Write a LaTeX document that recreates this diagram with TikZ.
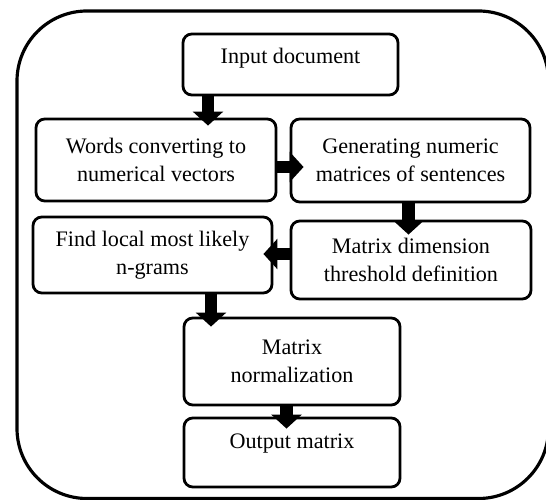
\documentclass[tikz,border=0pt]{standalone}
\usepackage{fontspec}
\setmainfont{Liberation Serif}
\usetikzlibrary{arrows.meta}

\begin{document}
\begin{tikzpicture}[
  line join=round,
  box/.style={draw, line width=1.6pt, rounded corners=5pt, align=center,
              fill=white, font=\fontsize{12.6}{16.1}\selectfont},
  uptext/.style={text depth=#1},
  flow/.style={line width=7pt, -{Triangle[width=17pt, length=8pt]}}
]

  \useasboundingbox (0,0) rectangle (10.92,-10);

  % ── Frame ─────────────────────────────────────────────────────────────────

  \draw[line width=1.8pt, rounded corners=1.4cm] (0.34,-0.22) rectangle (10.97,-9.97);

  % ── Steps ─────────────────────────────────────────────────────────────────

  \node[box, uptext=0.33cm, minimum width=4.30cm, minimum height=1.22cm] (in)    at (5.81,-1.29)
      {Input document};
  \node[box, minimum width=4.80cm, minimum height=1.64cm]         (words) at (3.12,-3.20)
      {Words converting to\\numerical vectors};
  \node[box, minimum width=4.78cm, minimum height=1.66cm]         (gen)   at (8.21,-3.21)
      {Generating numeric\\matrices of sentences};
  \node[box, minimum width=4.78cm, minimum height=1.52cm]         (find)  at (3.05,-5.10)
      {Find local most likely\\n-grams};
  \node[box, minimum width=4.80cm, minimum height=1.56cm]         (dim)   at (8.22,-5.20)
      {Matrix dimension\\threshold definition};
  \node[box, minimum width=4.32cm, minimum height=1.74cm]         (norm)  at (5.84,-7.23)
      {Matrix\\normalization};
  \node[box, uptext=0.45cm, minimum width=4.32cm, minimum height=1.38cm] (out)   at (5.84,-9.05)
      {Output matrix};

  % ── Arrows ────────────────────────────────────────────────────────────────

  \coordinate (a1) at ([xshift=-1.65cm]in.south);
  \coordinate (a2) at ([yshift=-0.14cm]words.east);
  \coordinate (a3) at ([xshift=-0.04cm]gen.south);
  \coordinate (a4) at ([yshift=0.12cm]dim.west);
  \coordinate (a5) at ([xshift=1.17cm]find.south);
  \coordinate (a6) at ([xshift=-0.11cm]norm.south);

  \draw[flow, shorten >=-0.16cm] (a1) -- (a1 |- words.north);
  \draw[flow, shorten >=-0.28cm] (a2) -- (a2 -| gen.west);
  \draw[flow, shorten >=-0.30cm] (a3) -- (a3 |- dim.north);
  \draw[flow, shorten >=-0.20cm] (a4) -- (a4 -| find.east);
  \draw[flow, shorten >=-0.20cm] (a5) -- (a5 |- norm.north);
  \draw[flow, shorten >=-0.24cm] (a6) -- (a6 |- out.north);

\end{tikzpicture}
\end{document}
